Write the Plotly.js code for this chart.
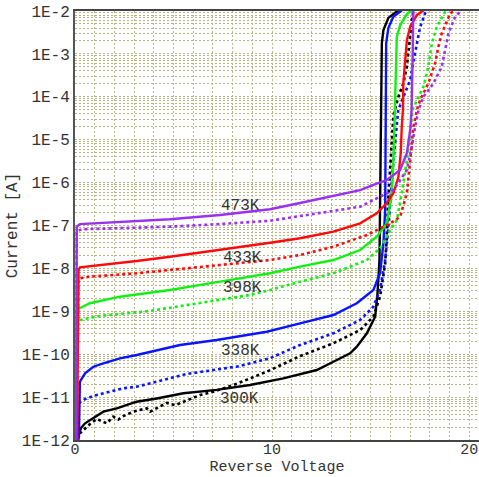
<!DOCTYPE html>
<html><head><meta charset="utf-8">
<script src="https://cdn.plot.ly/plotly-3.0.1.min.js"></script>
<style>html,body{margin:0;padding:0;background:#fff}#chart{width:479px;height:477px}</style>
</head><body><div id="chart"></div>
<script>
// ---- data (Reverse Voltage [V], Current [A]) ----
const temps = ['300K','338K','398K','433K','473K'];

const v300s = [0.03,0.17,0.30,0.51,0.93,1.44,2.12,3.13,4.15,5.50,7.19,8.88,10.57,12.27,13.11,13.96,14.30,14.81,15.23,15.35,15.45,15.48,15.52,15.53,15.57,15.65,15.90,16.24,16.45];
const i300s = [7.6e-13,1.31e-12,1.9e-12,2.45e-12,3.2e-12,4.57e-12,5.48e-12,7.8e-12,9.3e-12,1.23e-11,1.47e-11,1.91e-11,2.74e-11,4.28e-11,6.68e-11,1.05e-10,1.5e-10,3.07e-10,7.5e-10,2.63e-9,1.57e-8,2.3e-7,5.75e-6,2.47e-4,1.79e-3,3.6e-3,6.9e-3,9.1e-3,1.05e-2];
const v300d = [0.05,0.25,0.76,1.10,1.61,1.94,2.20,2.45,2.96,3.64,3.81,4.15,4.65,5.08,5.50,6.35,7.02,8.04,9.73,11.42,13.11,14.47,15.14,15.48,15.74,15.82,15.89,16.08,16.16,16.41,16.66,16.84,16.92,17.01,17.09,17.17];
const i300d = [7.6e-13,1.43e-12,2.36e-12,3.09e-12,2.45e-12,3.49e-12,3.0e-12,3.6e-12,4.57e-12,5.48e-12,4.57e-12,5.48e-12,7.3e-12,6.5e-12,7.8e-12,1.12e-11,1.34e-11,1.91e-11,3.91e-11,9.0e-11,1.8e-10,3.66e-10,7.5e-10,2.19e-9,1.31e-8,5.5e-8,3.9e-7,8.4e-6,3.77e-5,1.0e-4,2.06e-4,5.03e-4,1.23e-3,2.52e-3,6.17e-3,1.0e-2];

const v338s = [0.08,0.20,0.23,0.25,0.51,0.93,1.44,2.28,3.13,4.15,5.33,7.19,9.73,11.42,13.11,14.30,15.14,15.48,15.65,15.74,15.75,15.77,15.79,15.90,16.16,16.58];
const i338s = [7.6e-13,1.17e-12,8.5e-12,2.29e-11,3.59e-11,5.11e-11,6.14e-11,8.0e-11,9.57e-11,1.25e-10,1.64e-10,2.14e-10,3.34e-10,5.25e-10,8.2e-10,1.54e-9,3.14e-9,7.7e-9,3.85e-8,2.3e-7,5.75e-6,2.47e-4,1.79e-3,4.0e-3,7.4e-3,1.03e-2];
const v338d = [0.08,0.17,0.25,0.59,1.10,1.78,2.45,3.13,4.15,4.82,5.67,8.38,9.90,11.42,13.11,14.47,15.14,15.48,15.74,15.90,16.04,16.16,16.40,16.70,17.01,17.17,17.35,17.51,17.77,17.92];
const i338d = [7.6e-13,6.5e-12,7.7e-12,9.4e-12,1.12e-11,1.34e-11,1.6e-11,1.75e-11,2.29e-11,2.74e-11,3.45e-11,5.3e-11,8.1e-11,1.64e-10,3.07e-10,6.27e-10,1.28e-9,3.14e-9,1.57e-8,9.4e-8,6.7e-7,3.36e-6,4.9e-5,1.1e-4,2.47e-4,6.5e-4,1.79e-3,4.2e-3,9.0e-3,1.05e-2];

const v398s = [0.08,0.10,0.15,0.76,2.28,4.82,7.36,9.90,11.42,13.11,14.47,15.31,15.82,16.08,16.16,16.24,16.28,16.33,16.50,16.84,17.09];
const i398s = [7.6e-13,9.6e-10,1.13e-9,1.54e-9,2.19e-9,3.14e-9,4.9e-9,7.7e-9,1.1e-8,1.57e-8,2.68e-8,5.5e-8,1.12e-7,5.7e-7,3.36e-6,4.9e-5,4.2e-4,2.52e-3,4.7e-3,8.5e-3,1.03e-2];
const v398d = [0.08,0.13,0.25,1.27,3.81,6.35,8.88,9.90,11.42,13.11,14.81,15.48,15.90,16.33,16.58,16.84,17.01,17.13,17.35,17.68,17.93,18.11,18.36,18.78,18.88];
const i398d = [7.6e-13,5.6e-10,6.27e-10,7.8e-10,1.02e-9,1.56e-9,2.4e-9,3.14e-9,4.9e-9,7.7e-9,1.57e-8,2.94e-8,6.6e-8,1.34e-7,5.7e-7,3.36e-6,1.98e-5,4.9e-5,8.4e-5,1.72e-4,5.03e-4,1.79e-3,4.3e-3,9.6e-3,1.05e-2];

const v433s = [0.10,0.17,0.18,0.25,1.44,3.13,4.82,7.36,9.90,11.42,13.11,14.47,15.31,15.82,16.16,16.41,16.53,16.58,16.64,16.66,16.75,16.84,17.01,17.35,17.68];
const i433s = [7.6e-13,1.83e-9,9.2e-9,1.06e-8,1.2e-8,1.49e-8,1.87e-8,2.68e-8,3.97e-8,5.03e-8,7.2e-8,1.12e-7,1.92e-7,3.34e-7,5.7e-7,1.35e-6,4.9e-6,1.98e-5,4.9e-5,2.1e-4,7.2e-4,2.1e-3,4.3e-3,8.1e-3,1.03e-2];
const v433d = [0.10,0.17,0.25,0.76,3.13,5.67,7.36,9.90,11.42,13.11,14.81,15.99,16.50,16.84,17.01,17.17,17.35,17.51,17.93,18.27,18.44,18.61,19.04,19.29];
const i433d = [7.6e-13,5.37e-9,5.9e-9,6.4e-9,7.7e-9,1.0e-8,1.2e-8,1.57e-8,2.05e-8,3.2e-8,6.0e-8,1.12e-7,1.6e-7,5.7e-7,3.36e-6,1.98e-5,4.9e-5,8.4e-5,2.06e-4,6.0e-4,1.47e-3,3.0e-3,8.8e-3,1.05e-2];

const v473s = [0.05,0.09,0.25,1.44,4.82,7.36,9.90,11.42,13.45,14.47,15.14,15.82,16.50,16.84,17.01,17.08,17.13,17.17];
const i473s = [7.6e-13,9.4e-8,1.08e-7,1.16e-7,1.4e-7,1.76e-7,2.39e-7,3.34e-7,5.3e-7,6.7e-7,8.8e-7,1.15e-6,1.97e-6,4.9e-6,1.68e-5,4.9e-5,7.2e-4,1.05e-2];
const v473d = [0.05,0.09,0.34,2.28,4.82,7.36,9.90,11.42,13.45,14.47,15.48,16.16,16.84,17.09,17.26,17.43,17.68,18.19,18.61,18.78,18.95,19.29,19.63];
const i473d = [7.6e-13,7.4e-8,8.15e-8,8.6e-8,9.4e-8,1.08e-7,1.29e-7,1.66e-7,2.3e-7,2.74e-7,4.7e-7,6.7e-7,1.97e-6,6.9e-6,2.0e-5,4.9e-5,1.0e-4,2.06e-4,5.03e-4,1.23e-3,3.0e-3,7.4e-3,1.05e-2];

// label anchor points (V, A)
const labelV = [8.33, 8.42, 8.50, 8.50, 8.40];
const labelI = [9.2e-12, 1.22e-10, 3.49e-9, 1.77e-8, 2.9e-7];

const yTickVals = [1e-12,1e-11,1e-10,1e-9,1e-8,1e-7,1e-6,1e-5,1e-4,1e-3,1e-2];
const yTickText = ['1E-12','1E-11','1E-10','1E-9','1E-8','1E-7','1E-6','1E-5','1E-4','1E-3','1E-2'];

// ---- styling ----
const colors = ['#000000','#0a14ff','#12f012','#ff0a0a','#9b30f0'];
const series = [
  [v300s,i300s,v300d,i300d],
  [v338s,i338s,v338d,i338d],
  [v398s,i398s,v398d,i398d],
  [v433s,i433s,v433d,i433d],
  [v473s,i473s,v473d,i473d]
];
const traces = [];
series.forEach((s,k)=>{
  traces.push({x:s[0],y:s[1],mode:'lines',line:{color:colors[k],width:2.4},hoverinfo:'skip',name:temps[k]});
  traces.push({x:s[2],y:s[3],mode:'lines',line:{color:colors[k],width:2.6,dash:'dot'},hoverinfo:'skip',name:temps[k]+' b'});
});

const minorY = [];
for (let e=-12;e<-2;e++){ for (let d=2;d<=9;d++){ minorY.push(d*Math.pow(10,e)); } }

const gridCol = '#b4b486';
const fnt = {family:'"Liberation Mono", "Courier New", monospace', size:16, color:'#333333'};
const fntX = {family:'"Liberation Mono", "Courier New", monospace', size:15, color:'#333333'};

const layout = {
  width:479, height:477,
  margin:{l:75,r:0,t:11,b:37},
  paper_bgcolor:'#ffffff', plot_bgcolor:'#ffffff',
  showlegend:false,
  font:fnt,
  xaxis:{
    range:[0,20.5], tickmode:'linear', tick0:0, dtick:10,
    showgrid:true, gridcolor:gridCol, griddash:'2px,2px', gridwidth:1,
    minor:{tickmode:'linear', tick0:0, dtick:1, showgrid:true, gridcolor:gridCol, griddash:'2px,2px', gridwidth:1, ticks:''},
    showline:true, linecolor:'#444444', linewidth:2, mirror:true,
    ticks:'', zeroline:false, tickfont:fntX, ticklabelstandoff:-6,
    automargin:false,
    title:{text:'Reverse Voltage', font:fntX, standoff:1}
  },
  yaxis:{
    type:'log', range:[-12,-2], tickmode:'array', tickvals:yTickVals, ticktext:yTickText,
    showgrid:true, gridcolor:gridCol, griddash:'2px,2px', gridwidth:1,
    minor:{tickmode:'array', tickvals:minorY, showgrid:true, gridcolor:gridCol, griddash:'2px,2px', gridwidth:1, ticks:''},
    showline:true, linecolor:'#555555', linewidth:2, mirror:false,
    ticks:'', zeroline:false, tickfont:fnt, automargin:false,
    title:{text:'Current [A]', font:fnt, standoff:0}
  },
  annotations: temps.map((t,k)=>({
    x:labelV[k], y:Math.log10(labelI[k]), xref:'x', yref:'y', text:t, showarrow:false,
    font:fnt, xanchor:'center', yanchor:'middle'
  }))
};

Plotly.newPlot('chart', traces, layout, {staticPlot:true, displayModeBar:false});
</script>
</body></html>
